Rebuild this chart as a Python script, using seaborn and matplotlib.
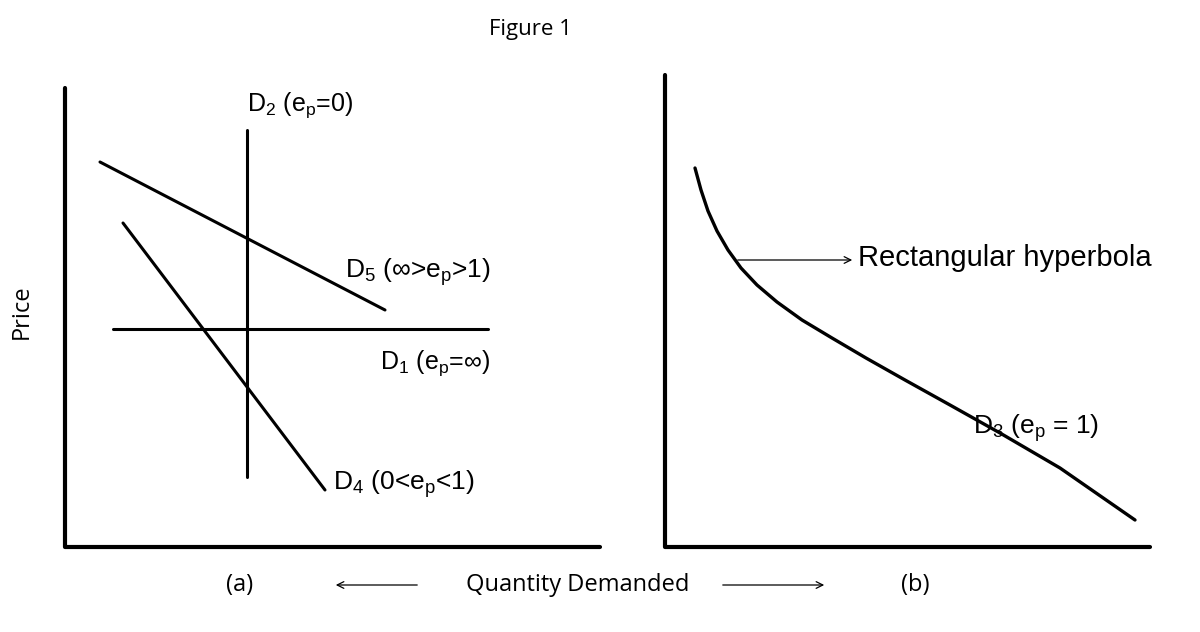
import matplotlib
matplotlib.use("Agg")
import matplotlib.pyplot as plt
import seaborn as sns
import pandas as pd

sns.set_theme(style="white")
plt.rcParams['font.family'] = ['Liberation Sans', 'DejaVu Sans']
plt.rcParams['mathtext.fontset'] = 'custom'
plt.rcParams['mathtext.rm'] = 'Liberation Sans'
plt.rcParams['mathtext.it'] = 'Liberation Sans:italic'

# line endpoints in the figure's own coordinate scale (pixels-like units)
axes_a_x = [65, 65, 600]; axes_a_y = [88, 547, 547]
axes_b_x = [665, 665, 1150]; axes_b_y = [75, 547, 547]
d5_x = [100, 385]; d5_y = [162, 310]
d4_x = [123, 325]; d4_y = [223, 490]
d1_x = [113, 488]; d1_y = [329, 329]
d2_x = [247, 247]; d2_y = [130, 477]
d3_x = [695, 701, 708, 717, 728, 741, 757, 777, 802, 832, 866, 905, 950, 1000, 1060, 1135]
d3_y = [168, 190, 211, 231, 250, 268, 285, 302, 320, 338, 358, 380, 405, 433, 468, 520]

fig = plt.figure(figsize=(12, 6.32), dpi=100)
ax = fig.add_axes([0, 0, 1, 1])
ax.set_xlim(0, 1200); ax.set_ylim(632, 0)

for xs, ys, lw in [(axes_a_x, axes_a_y, 3), (axes_b_x, axes_b_y, 3), (d5_x, d5_y, 2.2),
                   (d4_x, d4_y, 2.2), (d1_x, d1_y, 2.2), (d2_x, d2_y, 2.2), (d3_x, d3_y, 2.4)]:
    sns.lineplot(data=pd.DataFrame({'x': xs, 'y': ys}), x='x', y='y', sort=False,
                 color='black', lw=lw, ax=ax, estimator=None)
ax.axis('off')

fs = 19
ax.text(530, 30, "Figure 1", fontsize=16, ha='center', va='center', family=['Open Sans'], color='black')
ax.text(247, 105, r"D$_2$ (e$_{\mathrm{p}}$=0)", fontsize=18, ha='left', va='center', color='black')
ax.text(345, 272, r"D$_5$ ($\infty$>e$_{\mathrm{p}}$>1)", fontsize=fs, ha='left', va='center', color='black')
ax.text(380, 363, r"D$_1$ (e$_{\mathrm{p}}$=$\infty$)", fontsize=18, ha='left', va='center', color='black')
ax.text(333, 484, r"D$_4$ (0<e$_{\mathrm{p}}$<1)", fontsize=fs, ha='left', va='center', color='black')
ax.text(973, 428, r"D$_3$ (e$_{\mathrm{p}}$ = 1)", fontsize=fs, ha='left', va='center', color='black')
ax.text(858, 258, "Rectangular hyperbola", fontsize=21, ha='left', va='center', color='black')
ax.annotate("", xy=(855, 260), xytext=(735, 260),
            arrowprops=dict(arrowstyle='->', lw=0.9, color='black'))
ax.text(22, 312, "Price", fontsize=17, rotation=90, ha='center', va='center', family=['Open Sans'], color='black')
ax.text(240, 585, "(a)", fontsize=17, ha='center', va='center', family=['Open Sans'], color='black')
ax.text(915, 585, "(b)", fontsize=17, ha='center', va='center', family=['Open Sans'], color='black')
ax.text(578, 585, "Quantity Demanded", fontsize=17, ha='center', va='center', family=['Open Sans'], color='black')
ax.annotate("", xy=(333, 585), xytext=(420, 585),
            arrowprops=dict(arrowstyle='->', lw=0.9, color='black'))
ax.annotate("", xy=(827, 585), xytext=(720, 585),
            arrowprops=dict(arrowstyle='->', lw=0.9, color='black'))

fig.savefig("out.png", dpi=100)
